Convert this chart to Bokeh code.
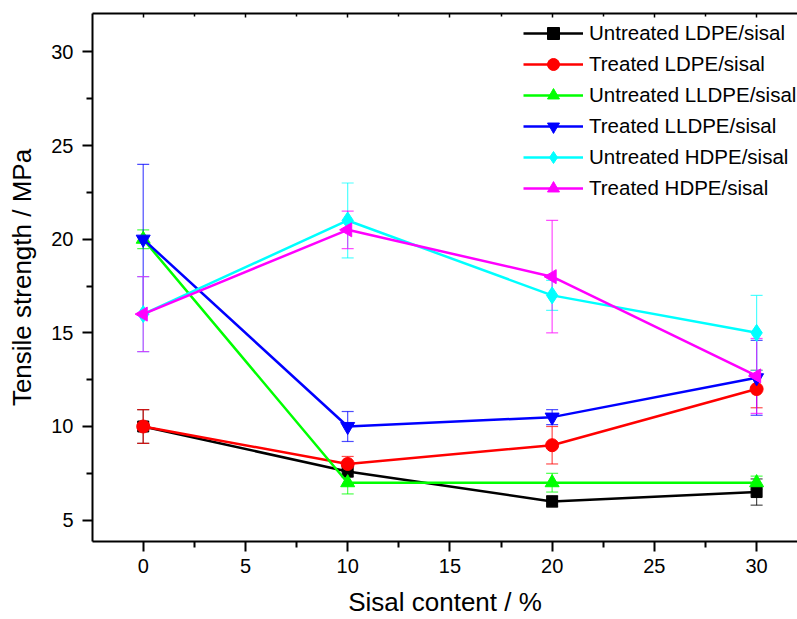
import math
from bokeh.plotting import figure
from bokeh.models import (ColumnDataSource, Whisker, TeeHead, Legend, LegendItem,
                          LinearAxis, FixedTicker, Range1d)
from bokeh.embed import file_html
from bokeh.resources import INLINE

# ---- data ----
sisal = [0, 10, 20, 30]
names = ["Untreated LDPE/sisal", "Treated LDPE/sisal", "Untreated LLDPE/sisal",
         "Treated LLDPE/sisal", "Untreated HDPE/sisal", "Treated HDPE/sisal"]
untreated_ldpe = [10.0, 7.6, 6.0, 6.5]
untreated_ldpe_err = [0.9, 0.3, 0.3, 0.7]
treated_ldpe = [10.0, 8.0, 9.0, 12.0]
treated_ldpe_err = [0.9, 0.4, 1.0, 1.0]
untreated_lldpe = [20.0, 7.0, 7.0, 7.0]
untreated_lldpe_err = [0.5, 0.6, 0.5, 0.35]
treated_lldpe = [20.0, 10.0, 10.5, 12.6]
treated_lldpe_err = [4.0, 0.8, 0.4, 2.0]
untreated_hdpe = [16.0, 21.0, 17.0, 15.0]
untreated_hdpe_err = [2.0, 2.0, 0.8, 2.0]
treated_hdpe = [16.0, 20.5, 18.0, 12.7]
treated_hdpe_err = [2.0, 1.0, 3.0, 2.0]
x_ticks = [0, 5, 10, 15, 20, 25, 30]
x_minor = [-2.5, 2.5, 7.5, 12.5, 17.5, 22.5, 27.5, 32.5]
y_ticks = [5, 10, 15, 20, 25, 30]
y_minor = [7.5, 12.5, 17.5, 22.5, 27.5]

series = [untreated_ldpe, treated_ldpe, untreated_lldpe, treated_lldpe, untreated_hdpe, treated_hdpe]
errors = [untreated_ldpe_err, treated_ldpe_err, untreated_lldpe_err, treated_lldpe_err,
          untreated_hdpe_err, treated_hdpe_err]
colors = ["#000000", "#FF0000", "#00FF00", "#0000FF", "#00FFFF", "#FF00FF"]
markers = ["square", "circle", "triangle", "inverted_triangle", "diamond", "triangle"]
sizes = [11, 13, 14, 14, 17, 14]
angles = [0, 0, 0, 0, 0, math.pi / 2]

FONT = "Liberation Sans"

p = figure(width=797, height=619, output_backend="svg", toolbar_location=None,
           x_range=Range1d(-2.48, 32.0), y_range=Range1d(3.86, 32.05),
           min_border_left=92, min_border_right=0, min_border_top=13, min_border_bottom=77)
p.outline_line_color = None
p.xgrid.visible = False
p.ygrid.visible = False
p.background_fill_color = "white"

for ax in (p.xaxis[0], p.yaxis[0]):
    ax.axis_line_width = 2
    ax.axis_line_color = "black"
    ax.major_tick_line_width = 2
    ax.minor_tick_line_width = 2
    ax.major_tick_line_color = "black"
    ax.minor_tick_line_color = "black"
    ax.major_tick_in = 0
    ax.major_tick_out = 10
    ax.minor_tick_in = 0
    ax.minor_tick_out = 6
    ax.major_label_text_font = FONT
    ax.major_label_text_font_size = "20px"
    ax.major_label_text_color = "black"
    ax.axis_label_text_font = FONT
    ax.axis_label_text_font_size = "26px"
    ax.axis_label_text_font_style = "normal"
    ax.axis_label_text_color = "black"

p.xaxis[0].ticker = FixedTicker(ticks=x_ticks, minor_ticks=x_minor)
p.yaxis[0].ticker = FixedTicker(ticks=y_ticks, minor_ticks=y_minor)
p.xaxis[0].axis_label = "Sisal content / %"
p.yaxis[0].axis_label = "Tensile strength / MPa"
p.xaxis[0].major_label_standoff = 7
p.xaxis[0].axis_label_standoff = 11
p.yaxis[0].major_label_standoff = 9
p.yaxis[0].axis_label_standoff = 11

top = LinearAxis(ticker=FixedTicker(ticks=x_ticks, minor_ticks=x_minor))
top.axis_line_width = 2
top.axis_line_color = "black"
top.major_tick_line_width = 1.5
top.minor_tick_line_width = 1.5
top.major_tick_in = 4
top.major_tick_out = 0
top.minor_tick_in = 3
top.minor_tick_out = 0
top.major_label_text_font_size = "1px"
top.major_label_text_color = None
top.major_label_standoff = 0
p.add_layout(top, "above")

items = []
for i, (ys, es) in enumerate(zip(series, errors)):
    src = ColumnDataSource(dict(x=sisal, y=ys,
                                upper=[a + b for a, b in zip(ys, es)],
                                lower=[a - b for a, b in zip(ys, es)]))
    w = Whisker(source=src, base="x", upper="upper", lower="lower",
                line_color=colors[i], line_alpha=0.7, line_width=1.2,
                upper_head=TeeHead(size=12, line_color=colors[i], line_alpha=0.7, line_width=1.2),
                lower_head=TeeHead(size=12, line_color=colors[i], line_alpha=0.7, line_width=1.2))
    p.add_layout(w)
    lr = p.line("x", "y", source=src, line_color=colors[i], line_width=2.5)
    sr = p.scatter("x", "y", source=src, marker=markers[i], size=sizes[i], angle=angles[i],
                   fill_color=colors[i], line_color=colors[i])
    items.append(LegendItem(label=names[i], renderers=[lr, sr]))

legend = Legend(items=items, location=(431, 338))
legend.border_line_color = None
legend.background_fill_alpha = 0
legend.padding = 0
legend.margin = 0
legend.spacing = 1
legend.glyph_width = 60
legend.glyph_height = 30
legend.label_height = 30
legend.label_standoff = 6
legend.label_text_font = FONT
legend.label_text_font_size = "20.5px"
legend.label_text_color = "black"
p.add_layout(legend)

open("out.html", "w").write(file_html(p, INLINE))
